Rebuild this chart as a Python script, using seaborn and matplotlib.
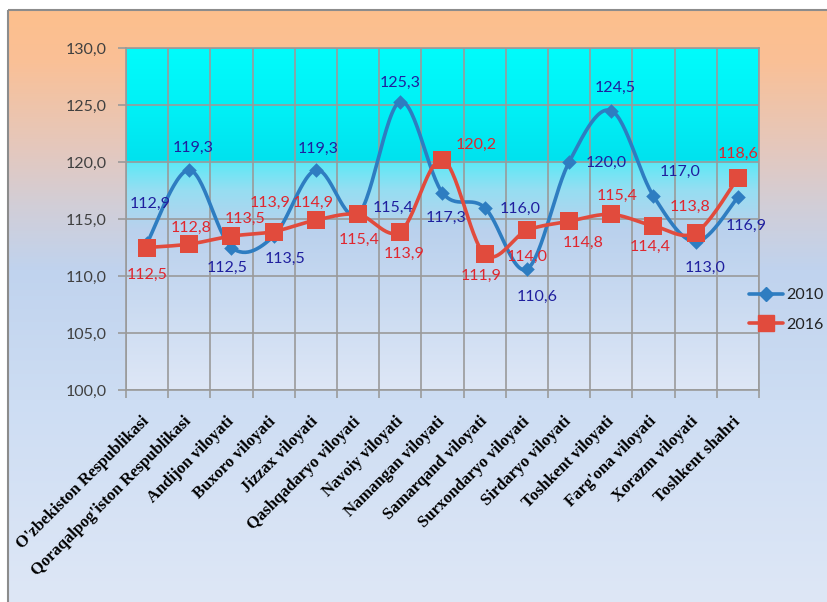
import numpy as np
import pandas as pd
import matplotlib
matplotlib.use("Agg")
import matplotlib.pyplot as plt
from matplotlib.lines import Line2D
from matplotlib.patches import Rectangle
import seaborn as sns

# ---- data -------------------------------------------------------------
regions = [
    "O'zbekiston Respublikasi", "Qoraqalpog'iston Respublikasi",
    "Andijon viloyati", "Buxoro viloyati", "Jizzax viloyati",
    "Qashqadaryo viloyati", "Navoiy viloyati", "Namangan viloyati",
    "Samarqand viloyati", "Surxondaryo viloyati", "Sirdaryo viloyati",
    "Toshkent viloyati", "Farg'ona viloyati", "Xorazm viloyati",
    "Toshkent shahri",
]
idx_2010 = [112.9, 119.3, 112.5, 113.5, 119.3, 115.4, 125.3, 117.3,
            116.0, 110.6, 120.0, 124.5, 117.0, 113.0, 116.9]
idx_2016 = [112.5, 112.8, 113.5, 113.9, 114.9, 115.4, 113.9, 120.2,
            111.9, 114.0, 114.8, 115.4, 114.4, 113.8, 118.6]
y_ticks = [100, 105, 110, 115, 120, 125, 130]
series_names = ["2010", "2016"]

# label placement around each point (pixels, x right / y up)
off_2010 = [(3, 39), (4, 22), (-4, -20), (11, -23), (2, 21), (35, 7),
            (0, 19), (4, -25), (35, -1), (10, -28), (37, -1), (4, 23),
            (27, 24), (9, -26), (8, -29)]
off_2016 = [(0, -27), (2, 16), (14, 17), (-4, 29), (-3, 17), (1, -25),
            (4, -22), (34, 15), (-4, -22), (0, -26), (14, -22), (6, 19),
            (-3, -21), (-6, 26), (0, 24)]

BLUE_LINE = "#2E7DC1"
RED_LINE = "#E14B3D"
BLUE_TEXT = "#1F1F9E"
RED_TEXT = "#E0262E"

W, H = 828, 602


def smooth(xs, ys, n=30):
    """Catmull-Rom style smoothed path through the given points."""
    p = np.column_stack([xs, ys]).astype(float)
    out = []
    for i in range(len(p) - 1):
        p0 = p[i - 1] if i > 0 else p[i]
        p1, p2 = p[i], p[i + 1]
        p3 = p[i + 2] if i + 2 < len(p) else p[i + 1]
        c1 = p1 + (p2 - p0) / 6.0
        c2 = p2 - (p3 - p1) / 6.0
        t = np.linspace(0, 1, n, endpoint=(i == len(p) - 2))[:, None]
        seg = ((1 - t) ** 3) * p1 + 3 * ((1 - t) ** 2) * t * c1 \
            + 3 * (1 - t) * t ** 2 * c2 + t ** 3 * p2
        out.append(seg)
    out = np.vstack(out)
    return out[:, 0], out[:, 1]


def gradient(stops, n):
    ys = np.array([s[0] for s in stops], float)
    cols = np.array([s[1] for s in stops], float) / 255.0
    yy = np.linspace(ys[0], ys[-1], n)
    img = np.stack([np.interp(yy, ys, cols[:, k]) for k in range(3)], axis=1)
    return img[:, None, :]


sns.set_theme(style="white")
plt.rcParams["font.family"] = ["Lato", "DejaVu Sans"]

fig = plt.figure(figsize=(W / 100, H / 100), dpi=100)
fig.patch.set_facecolor("white")

# ---- outer gradient panel --------------------------------------------
bg = fig.add_axes([0, 0, 1, 1], zorder=-10)
bg.set_xlim(0, W)
bg.set_ylim(H, 0)
bg.axis("off")
outer_stops = [
    (10, (253, 191, 140)), (60, (250, 192, 150)), (150, (228, 200, 190)),
    (205, (210, 206, 215)), (270, (192, 211, 238)), (400, (205, 221, 243)),
    (602, (222, 231, 246)),
]
bg.imshow(gradient(outer_stops, 600), extent=[8, W, H, 10], aspect="auto",
          interpolation="bilinear")
bg.add_patch(Rectangle((8, 10), W, H, fill=False, edgecolor="#8C8C8C",
                       linewidth=1.5))

# ---- plot area --------------------------------------------------------
ax = fig.add_axes([126 / W, 1 - 390 / H, (759 - 126) / W, (390 - 48) / H])
ax.set_facecolor("none")
inner_stops = [
    (48, (0, 252, 252)), (110, (0, 240, 246)), (160, (0, 226, 238)),
    (163, (95, 232, 246)), (190, (150, 222, 242)), (230, (186, 209, 237)),
    (300, (201, 218, 241)), (390, (222, 231, 246)),
]
ax.imshow(gradient(inner_stops, 400), extent=[-0.5, 14.5, 100, 130],
          aspect="auto", interpolation="bilinear", zorder=0)

x = np.arange(len(regions))
for vals, color, name in [(idx_2010, BLUE_LINE, "2010"),
                          (idx_2016, RED_LINE, "2016")]:
    sx, sy = smooth(x, vals)
    curve = pd.DataFrame({"x": sx, "y": sy})
    sns.lineplot(data=curve, x="x", y="y", ax=ax, color=color, lw=2.6,
                 sort=False, estimator=None, zorder=3)

pts = pd.DataFrame({"x": x, "v2010": idx_2010, "v2016": idx_2016})
sns.scatterplot(data=pts, x="x", y="v2010", ax=ax, marker="D", s=55,
                color=BLUE_LINE, edgecolor=BLUE_LINE, linewidth=0, zorder=4)
sns.scatterplot(data=pts, x="x", y="v2016", ax=ax, marker="s", s=150,
                color=RED_LINE, edgecolor=RED_LINE, linewidth=0, zorder=5)


def fmt(v):
    return f"{v:.1f}".replace(".", ",")


for i in range(len(regions)):
    ax.annotate(fmt(idx_2010[i]), (x[i], idx_2010[i]), xytext=off_2010[i],
                textcoords="offset pixels", ha="center", va="center",
                fontsize=11.5, color=BLUE_TEXT, zorder=6)
    ax.annotate(fmt(idx_2016[i]), (x[i], idx_2016[i]), xytext=off_2016[i],
                textcoords="offset pixels", ha="center", va="center",
                fontsize=11.5, color=RED_TEXT, zorder=6)

ax.set_xlim(-0.5, 14.5)
ax.set_ylim(100, 130)
ax.set_yticks(y_ticks)
ax.set_yticklabels([fmt(v) for v in y_ticks], fontsize=11.5, color="#404040")
ax.set_xticks(x)
ax.set_xticklabels(regions, rotation=45, ha="right", va="center",
                   rotation_mode="anchor", fontsize=12, fontweight="bold",
                   family="Liberation Serif", color="black")
ax.set_xticks(np.arange(-0.5, 15, 1), minor=True)
ax.tick_params(axis="x", which="major", length=0, pad=21)
ax.tick_params(axis="x", which="minor", length=6, width=1.2,
               color="#9A9A9A", bottom=True)
ax.tick_params(axis="y", length=6, width=1.2, color="#9A9A9A", left=True,
               pad=8)
ax.grid(False)
ax.grid(axis="y", which="major", color="#9A9A9A", lw=1.2, zorder=2)
ax.grid(axis="x", which="minor", color="#9A9A9A", lw=1.2, zorder=2)
ax.set_axisbelow(False)
for sp in ax.spines.values():
    sp.set_color("#9A9A9A")
    sp.set_linewidth(1.2)
ax.set_xlabel("")
ax.set_ylabel("")

handles = [
    Line2D([], [], color=BLUE_LINE, lw=2.6, marker="D", markersize=7),
    Line2D([], [], color=RED_LINE, lw=2.6, marker="s", markersize=12),
]
fig.legend(handles, series_names, loc="center left",
           bbox_to_anchor=(749 / W, 1 - 310 / H), frameon=False,
           borderpad=0, borderaxespad=0,
           fontsize=11.5, handlelength=2.1, handletextpad=0.2,
           labelspacing=0.95, labelcolor="#222222")

fig.savefig("out.png", dpi=100, facecolor=fig.get_facecolor())
